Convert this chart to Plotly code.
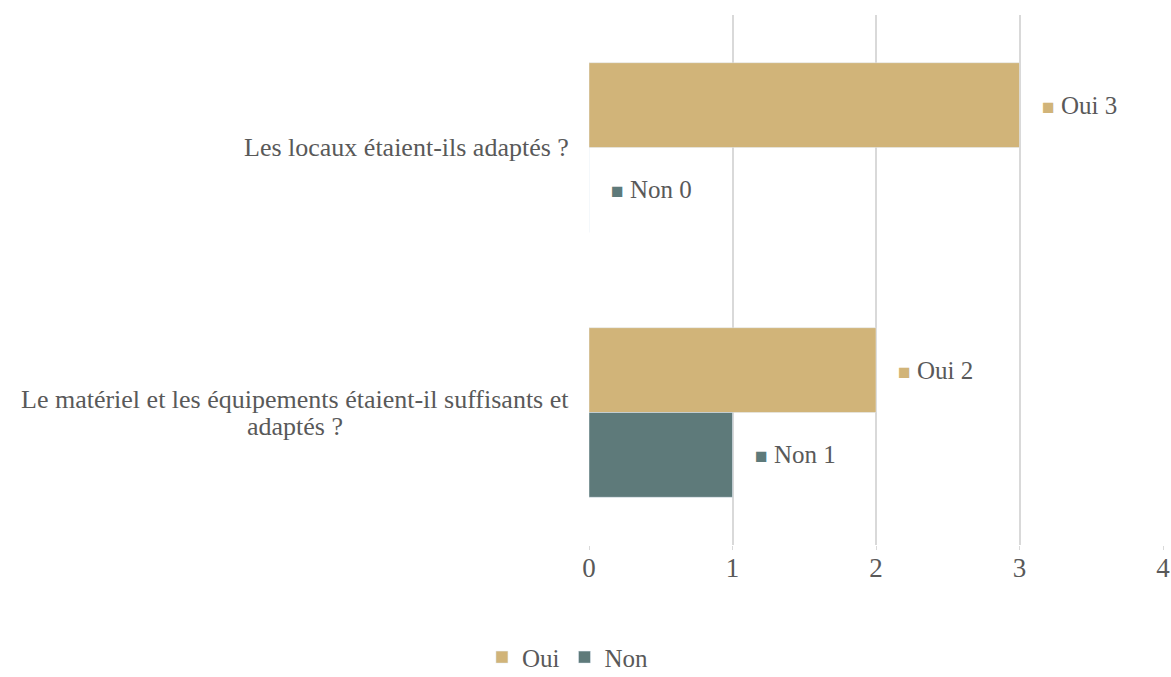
import plotly.graph_objects as go

# Survey answers (one string per question, "\n" marks the wrapped line)
questions = ["Les locaux étaient-ils adaptés ?",
             "Le matériel et les équipements étaient-il suffisants et\nadaptés ?"]
oui = [3, 2]
non = [0, 1]

col_oui = "#D1B479"
col_non = "#5E7A7A"
txt_col = "#595959"
font_fam = "'Liberation Serif', Georgia, serif"

fig = go.Figure()
fig.add_trace(go.Bar(y=list(range(len(questions))), x=oui, name="Oui",
                     orientation="h", marker=dict(color=col_oui)))
fig.add_trace(go.Bar(y=list(range(len(questions))), x=non, name="Non",
                     orientation="h", marker=dict(color=col_non)))

bargap = 0.36
half = (1 - bargap) / 4  # centre offset of each bar in a group
line_h = 27  # px between wrapped label lines

annots = []
for i, q in enumerate(questions):
    lines = q.split("\n")
    n = len(lines)
    for k, ln in enumerate(lines):
        shift = ((n - 1) / 2 - k) * line_h
        if n == 1:
            pos = dict(x=0, xanchor="right", xshift=-18)
        else:
            pos = dict(x=-0.512, xanchor="center")
        annots.append(dict(y=i, xref="paper", yref="y", text=ln,
                           yanchor="middle", yshift=shift, showarrow=False,
                           font=dict(size=26, color=txt_col, family=font_fam),
                           **pos))
    for name, vals, col, off in [("Oui", oui, col_oui, -half), ("Non", non, col_non, half)]:
        annots.append(dict(x=vals[i], y=i + off, xref="x", yref="y",
                           text=f"<span style='color:{col};font-size:21px'>■</span> {name} {vals[i]}",
                           xanchor="left", yanchor="middle", xshift=20,
                           showarrow=False,
                           font=dict(size=25, color=txt_col, family=font_fam)))

fig.update_layout(
    width=1171, height=677,
    margin=dict(l=589, r=8, t=15, b=132, autoexpand=False),
    barmode="group", bargap=bargap, bargroupgap=0,
    plot_bgcolor="white", paper_bgcolor="white",
    font=dict(family=font_fam, color=txt_col, size=23),
    xaxis=dict(range=[0, 4], dtick=1, showgrid=True, gridcolor="#D9D9D9",
               gridwidth=1.5, zeroline=False, showline=False, automargin=False,
               ticks="outside", ticklen=4, tickcolor="#D9D9D9",
               ticklabelstandoff=-5,
               tickfont=dict(size=27, color=txt_col), fixedrange=True),
    yaxis=dict(showticklabels=False, showgrid=False, automargin=False,
               zeroline=False, range=[1.5, -0.5]),
    legend=dict(orientation="h", x=0.485, xanchor="center", xref="container",
                y=-0.212, yanchor="middle", yref="paper",
                font=dict(size=25, color=txt_col), itemwidth=30,
                traceorder="normal"),
    annotations=annots,
    showlegend=True,
)

fig.write_html("out.html", config={"displayModeBar": False},
               post_script="document.body.style.margin='0';")
